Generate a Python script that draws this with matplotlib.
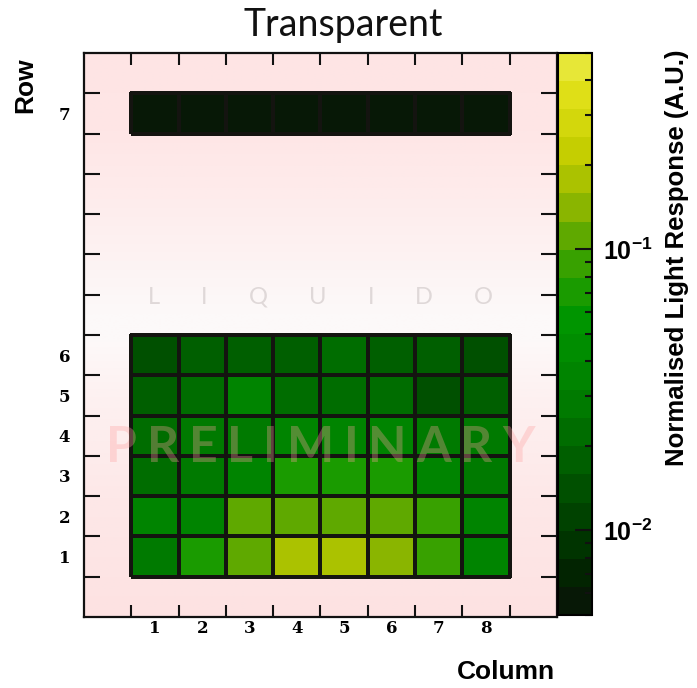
"""
Light response map of the transparent module, per row/column, log colour scale.
Output: out.png
"""

import numpy as np
import matplotlib
matplotlib.use("Agg")
import matplotlib.pyplot as plt
from matplotlib.colors import LinearSegmentedColormap, ListedColormap, LogNorm
from matplotlib.ticker import LogLocator, FuncFormatter, NullFormatter

plt.rcParams["mathtext.fontset"] = "custom"
plt.rcParams["mathtext.bf"] = "Liberation Sans:bold"
plt.rcParams["mathtext.rm"] = "Liberation Sans:bold"

# ---- data ---------------------------------------------------------------
columns = [1, 2, 3, 4, 5, 6, 7, 8]
row_labels = ["1", "2", "3", "4", "5", "6", "7"]
row_pos = [1, 2, 3, 4, 5, 6, 12]          # row 7 sits apart from the block

row1 = [0.0275, 0.073, 0.105, 0.165, 0.19, 0.135, 0.095, 0.032]
row2 = [0.032, 0.035, 0.10, 0.115, 0.112, 0.11, 0.085, 0.033]
row3 = [0.022, 0.0275, 0.032, 0.072, 0.079, 0.065, 0.035, 0.027]
row4 = [0.0229, 0.0275, 0.030, 0.038, 0.033, 0.038, 0.030, 0.030]
row5 = [0.016, 0.021, 0.033, 0.024, 0.024, 0.025, 0.0138, 0.0164]
row6 = [0.0151, 0.016, 0.0194, 0.0194, 0.0229, 0.0194, 0.0164, 0.0142]
row7 = [0.0052, 0.0052, 0.0052, 0.0052, 0.0052, 0.0052, 0.0052, 0.0052]
rows = [row1, row2, row3, row4, row5, row6, row7]

VMIN, VMAX = 0.005, 0.5
N_CONTOURS = 20

# ---- colour map (black -> green -> yellow, banded) ------------------------
anchors = [
    (0.00, (10, 18, 8)),
    (0.09, (0, 40, 0)),
    (0.15, (0, 60, 0)),
    (0.24, (0, 85, 0)),
    (0.33, (0, 110, 0)),
    (0.41, (0, 130, 0)),
    (0.53, (0, 150, 0)),
    (0.62, (50, 160, 0)),
    (0.68, (100, 170, 0)),
    (0.74, (150, 185, 0)),
    (0.82, (195, 205, 0)),
    (0.92, (222, 222, 20)),
    (1.00, (235, 235, 70)),
]
smooth = LinearSegmentedColormap.from_list(
    "avocado", [(f, tuple(c / 255 for c in rgb)) for f, rgb in anchors])
cmap = ListedColormap(smooth((np.arange(N_CONTOURS) + 0.5) / N_CONTOURS))
norm = LogNorm(vmin=VMIN, vmax=VMAX)

# ---- figure ---------------------------------------------------------------
fig = plt.figure(figsize=(6.97, 6.88), dpi=100)
fig.patch.set_facecolor("white")
ax = fig.add_axes([0.1205, 0.1032, 0.6786, 0.8198])
cax = fig.add_axes([0.8006, 0.1061, 0.0488, 0.8169])

xlim = (columns[0] - 1.5, columns[-1] + 1.5)
ylim = (-0.5, row_pos[-1] + 1.5)

# pink-white-pink background
bg = [
    (0.00, (253, 226, 226)),
    (0.21, (253, 232, 232)),
    (0.39, (253, 241, 241)),
    (0.49, (253, 249, 249)),
    (0.54, (252, 249, 249)),
    (0.63, (253, 243, 243)),
    (0.74, (254, 236, 236)),
    (0.86, (254, 230, 230)),
    (1.00, (254, 228, 228)),
]
bg_cmap = LinearSegmentedColormap.from_list(
    "bg", [(f, tuple(c / 255 for c in rgb)) for f, rgb in bg])
grad = np.linspace(0, 1, 256).reshape(-1, 1)
ax.imshow(grad, cmap=bg_cmap, extent=(*xlim, *ylim), origin="lower",
          aspect="auto", interpolation="bilinear", zorder=0)

col_edges = np.arange(columns[0] - 0.5, columns[-1] + 1.0)
mesh = None
for y, vals in zip(row_pos, rows):
    mesh = ax.pcolormesh(col_edges, [y - 0.5, y + 0.5], [vals], cmap=cmap, norm=norm,
                         edgecolors="#141410", linewidth=1.6, zorder=2)

ax.set_xlim(*xlim)
ax.set_ylim(*ylim)

# labels at cell centres, ticks at cell edges
ax.set_xticks(columns)
ax.set_xticklabels([str(c) for c in columns])
ax.set_xticks(col_edges, minor=True)
ax.set_yticks(row_pos)
ax.set_yticklabels(row_labels)
ax.set_yticks(np.arange(0.5, row_pos[-1] + 1.0), minor=True)

ax.tick_params(which="major", length=0)
ax.tick_params(axis="x", which="major", pad=2)
ax.tick_params(axis="y", which="major", pad=10)
ax.tick_params(axis="x", which="minor", direction="in", length=8.6, width=1.5,
               top=True, bottom=True, color="#111111")
ax.tick_params(axis="y", which="minor", direction="in", length=11.5, width=1.5,
               left=True, right=True, color="#111111")
for lab in ax.get_xticklabels() + ax.get_yticklabels():
    lab.set_fontfamily("DejaVu Serif")
    lab.set_fontweight("bold")
    lab.set_fontsize(12)
for sp in ax.spines.values():
    sp.set_linewidth(1.6)
    sp.set_color("#111111")
    sp.set_zorder(5)

# colour bar
cb = fig.colorbar(mesh, cax=cax)
cb.outline.set_linewidth(1.5)
cax.yaxis.set_major_locator(LogLocator(base=10))
cax.yaxis.set_minor_locator(LogLocator(base=10, subs=np.arange(2, 10)))
cax.yaxis.set_major_formatter(
    FuncFormatter(lambda v, p: rf"$\mathbf{{10^{{{int(round(np.log10(v)))}}}}}$"))
cax.yaxis.set_minor_formatter(NullFormatter())
cax.tick_params(which="both", direction="in", right=True, left=False, width=1.5,
                color="#111111")
cax.tick_params(which="major", length=12, labelsize=18, pad=8)
cax.tick_params(which="minor", length=5)

# texts
fig.text(343 / 697, 1 - 25 / 688, "Transparent", ha="center", va="center",
         fontsize=27, fontfamily="Lato", color="#111111")
fig.text(25 / 697, 1 - 57 / 688, "Row", rotation=90, ha="center", va="top",
         fontsize=19, fontweight="bold", fontfamily="Liberation Sans")
fig.text(555 / 697, 1 - 672 / 688, "Column", ha="right", va="center",
         fontsize=19, fontweight="bold", fontfamily="Liberation Sans")
fig.text(677 / 697, 1 - 50 / 688, "Normalised Light Response (A.U.)", rotation=90,
         ha="center", va="top", fontsize=18.5, fontweight="bold",
         fontfamily="Liberation Sans")


def spaced_text(ax, text, xc, y, span, **kw):
    """Write text letter by letter, spread evenly over `span` (axes fraction)."""
    renderer = ax.figure.canvas.get_renderer()
    arts = [ax.text(0, y, ch, transform=ax.transAxes, ha="left", va="center", **kw)
            for ch in text]
    ax_w = ax.get_window_extent(renderer).width
    widths = [a.get_window_extent(renderer).width / ax_w for a in arts]
    gap = (span - sum(widths)) / (len(text) - 1)
    x = xc - span / 2
    for a, w in zip(arts, widths):
        a.set_x(x)
        x += w + gap


fig.canvas.draw()
spaced_text(ax, "LIQUIDO", 0.5, 0.567, 0.73, fontsize=17, fontfamily="Lato",
            color="#dfd8d8", zorder=1)
spaced_text(ax, "PRELIMINARY", 0.5, 0.301, 0.905, fontsize=36, fontfamily="Lato",
            fontweight="bold", color="#ffa0a0", alpha=0.33, zorder=6)

fig.savefig("out.png", dpi=100, facecolor="white")
plt.close(fig)
